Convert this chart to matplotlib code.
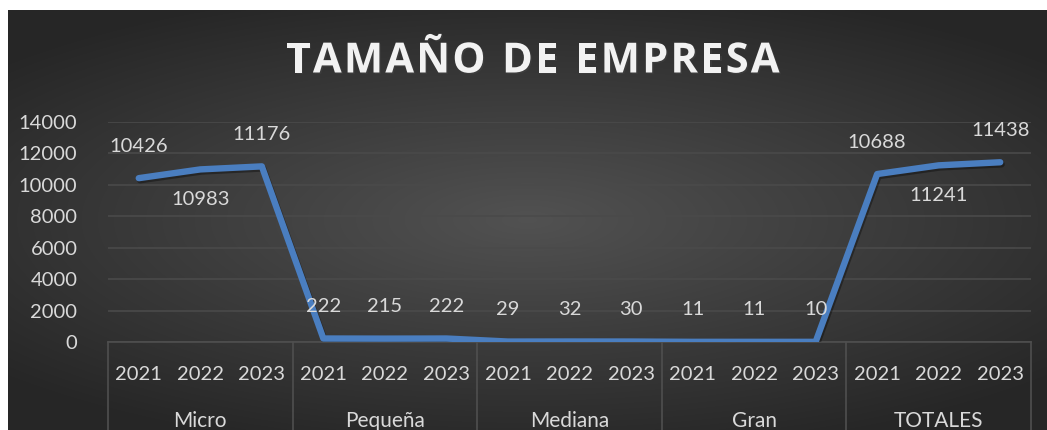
import numpy as np
import matplotlib
matplotlib.use('Agg')
import matplotlib.pyplot as plt
import matplotlib.transforms as mtransforms
import matplotlib.patheffects as pe

groups = ['Micro', 'Pequeña', 'Mediana', 'Gran', 'TOTALES']
years = ['2021', '2022', '2023']
values = [10426, 10983, 11176,
          222, 215, 222,
          29, 32, 30,
          11, 11, 10,
          10688, 11241, 11438]
# label position: +1 above the point, -1 below
label_side = [1, -1, 1,
              1, 1, 1,
              1, 1, 1,
              1, 1, 1,
              1, -1, 1]
title = 'TAMAÑO DE EMPRESA'

W, H = 1047, 430
txt = '#d9d9d9'
font = 'Lato'

fig = plt.figure(figsize=(W / 100, H / 100), dpi=100, facecolor='white')

# dark radial gradient background
bg = fig.add_axes([8 / W, 0, 1 - 8 / W, 420 / H])
bg.set_axis_off()
yy, xx = np.mgrid[-1:1:300j, -1:1:600j]
r = np.sqrt((xx / 1.0) ** 2 + (yy / 0.85) ** 2)
r = np.clip(r / 1.35, 0, 1)
c0, c1 = 0.32, 0.15
img = c0 + (c1 - c0) * r
bg.imshow(np.dstack([img, img, img]), aspect='auto', extent=[0, 1, 0, 1],
          interpolation='bilinear')
bg.set_xlim(0, 1)
bg.set_ylim(0, 1)

ax = fig.add_axes([108 / W, (H - 342) / H, (1031 - 108) / W, 220 / H])
ax.patch.set_alpha(0)
n = len(values)
x = np.arange(n)
ax.set_xlim(-0.5, n - 0.5)
ax.set_ylim(0, 14000)
ax.set_yticks(range(0, 14001, 2000))
ax.grid(axis='y', color='#4a4a4a', lw=1.2)
ax.set_axisbelow(True)
for s in ['top', 'right', 'left']:
    ax.spines[s].set_visible(False)
ax.spines['bottom'].set_color('#4f4f4f')
ax.spines['bottom'].set_linewidth(1.2)
ax.tick_params(axis='y', length=0, pad=22, labelsize=14.5, labelcolor=txt)
ax.tick_params(axis='x', length=0, pad=17, labelsize=14.5, labelcolor=txt)
for t in ax.get_yticklabels() + ax.get_xticklabels():
    t.set_fontfamily(font)
ax.set_xticks(x)
ax.set_xticklabels(years * len(groups), fontfamily=font)

ax.plot(x, values, color='#4a7ec0', lw=4.6, solid_capstyle='round',
        solid_joinstyle='round', zorder=3,
        path_effects=[pe.SimpleLineShadow(offset=(1, -1.5), alpha=0.35, shadow_color='black'),
                      pe.Normal()])

for xi, v, s in zip(x, values, label_side):
    ax.annotate(str(v), (xi, v), xytext=(0, 23 if s > 0 else -22),
                textcoords='offset points', ha='center', va='center',
                color=txt, fontsize=14.5, fontfamily=font)

# group separators and labels
trans = mtransforms.blended_transform_factory(ax.transData, ax.transAxes)
for k in range(len(groups) + 1):
    ax.plot([k * 3 - 0.5] * 2, [0, -0.45], transform=trans, color='#4f4f4f',
            lw=1.2, clip_on=False)
for k, g in enumerate(groups):
    ax.text(k * 3 + 1, -0.315, g, transform=trans, ha='center', va='top',
            color=txt, fontsize=15, fontfamily=font)

# title with letter spacing, laid out one character at a time
renderer = fig.canvas.get_renderer()
tkw = dict(color='#f2f2f2', fontsize=30, fontweight='bold', fontfamily='Open Sans',
           va='center', ha='left',
           path_effects=[pe.withSimplePatchShadow(offset=(1, -1), alpha=0.4)])
spacing = 2.2
widths = []
for ch in title:
    t = fig.text(0, 0, ch if ch != ' ' else 'n', **tkw)
    w = t.get_window_extent(renderer).width
    if ch == ' ':
        w = w * 0.45
    widths.append(w)
    t.remove()
total = sum(widths) + spacing * (len(title) - 1)
xp = 533 - total / 2
for ch, w in zip(title, widths):
    if ch != ' ':
        fig.text(xp / W, 1 - 62 / H, ch, **tkw)
    xp += w + spacing

fig.savefig('out.png', dpi=100, facecolor='white')
